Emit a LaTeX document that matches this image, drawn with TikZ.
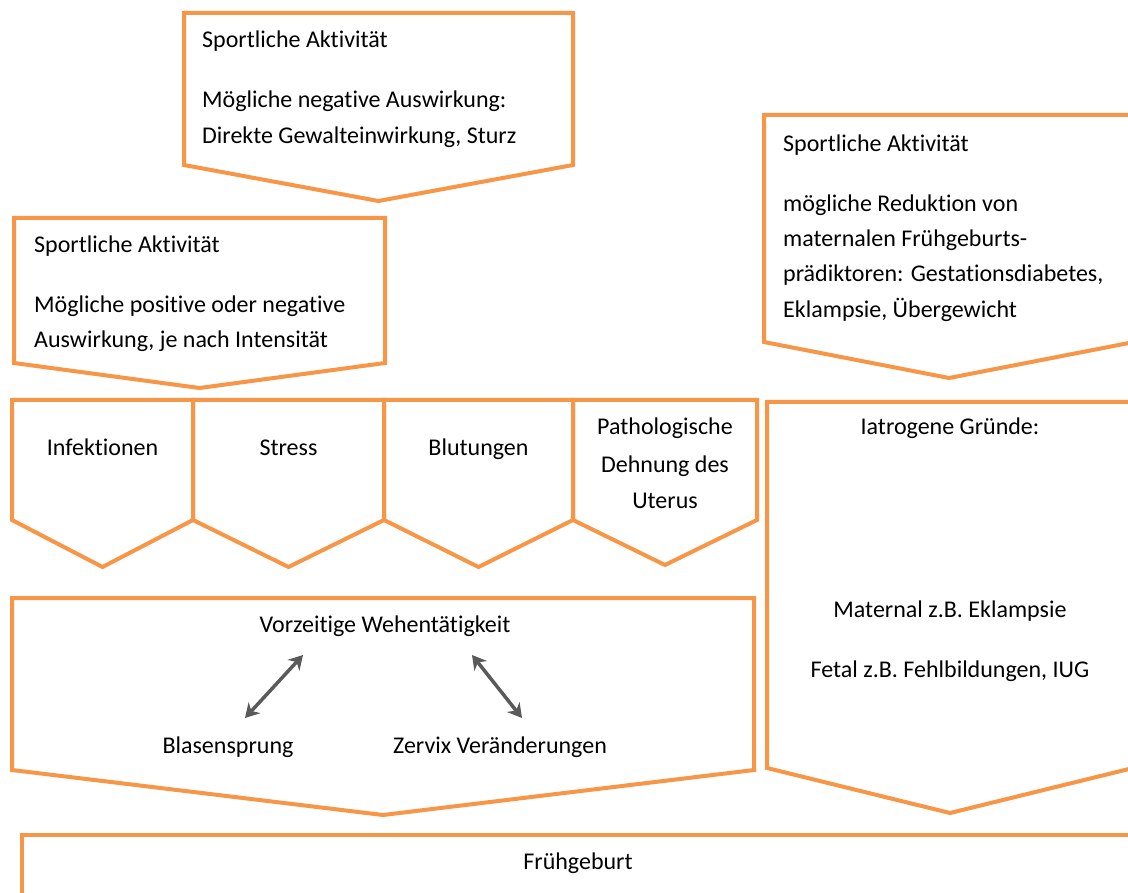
\documentclass[tikz,border=0pt]{standalone}
\usepackage{fontspec}
\setmainfont{Carlito}[Ligatures={NoCommon}]
\usetikzlibrary{arrows.meta}
\definecolor{orng}{HTML}{F79646}
\definecolor{arrgray}{HTML}{5A5A5A}
\newcommand\pentbox[5]{\draw[box] (#1,#2) -- (#3,#2) -- (#3,#4) -- ({(#1+#3)/2},#5) -- (#1,#4) -- cycle;}
\begin{document}
\begin{tikzpicture}[x=1pt,y=-1pt,
  box/.style={draw=orng,line width=4pt,line join=miter},
  txt/.style={inner sep=0pt,font=\fontsize{24}{35.5}\selectfont,text=black},
  link/.style={draw=arrgray,line width=3.5pt,{Stealth[length=14pt,width=16pt]}-{Stealth[length=14pt,width=16pt]}}]
\path[use as bounding box] (0,0) rectangle (1128,893);
\clip (0,0) rectangle (1128,893);
% shapes
\pentbox{184}{13}{573}{165}{201}
\pentbox{14}{218}{385}{363}{388}
\pentbox{764}{115}{1134}{342}{378}
\pentbox{12}{400}{193}{520}{567}
\pentbox{193}{400}{384}{520}{567}
\pentbox{384}{400}{573}{520}{567}
\pentbox{573}{400}{757}{520}{565}
\pentbox{767}{402}{1133}{768}{813}
\pentbox{12}{598}{754}{770}{815}
\draw[box] (22,835) rectangle (1140,910);
% texts
\node[txt,anchor=base west] (t1a) at (202,48) {Sportliche Aktivität};
\node[txt,anchor=base west] (t1b) at (202,108) {Mögliche negative Auswirkung:};
\node[txt,anchor=base west] (t1c) at (202,144) {Direkte Gewalteinwirkung, Sturz};
\node[txt,anchor=base west] (t2a) at (34,253) {Sportliche Aktivität};
\node[txt,anchor=base west] (t2b) at (34,313) {Mögliche positive oder negative};
\node[txt,anchor=base west] (t2c) at (34,348) {Auswirkung, je nach Intensität};
\node[txt,anchor=base west] (t3a) at (783,152) {Sportliche Aktivität};
\node[txt,anchor=base west] (t3b) at (783,212) {mögliche Reduktion von};
\node[txt,anchor=base west] (t3c) at (783,247) {maternalen Frühgeburts-};
\node[txt,anchor=base west] (t3d) at (783,282) {prädiktoren: Gestationsdiabetes,};
\node[txt,anchor=base west] (t3e) at (783,318) {Eklampsie, Übergewicht};
\node[txt,anchor=base] (inf) at (102.5,455) {Infektionen};
\node[txt,anchor=base] (str) at (288.5,455) {Stress};
\node[txt,anchor=base] (blu) at (478.5,455) {Blutungen};
\node[txt,anchor=base] (pa1) at (665,435) {Pathologische};
\node[txt,anchor=base] (pa2) at (665,472) {Dehnung des};
\node[txt,anchor=base] (pa3) at (665,508) {Uterus};
\node[txt,anchor=base] (iat) at (950,435) {Iatrogene Gründe:};
\node[txt,anchor=base] (mat) at (950,617) {Maternal z.B. Eklampsie};
\node[txt,anchor=base] (fet) at (950,677) {Fetal z.B. Fehlbildungen, IUG};
\node[txt,anchor=base] (vw) at (385,632) {Vorzeitige Wehentätigkeit};
\node[txt,anchor=base] (bs) at (228,753) {Blasensprung};
\node[txt,anchor=base] (zv) at (500,753) {Zervix Veränderungen};
\node[txt,anchor=base] (fg) at (578,869) {Frühgeburt};
% connectors
\coordinate (a1s) at (303,655);
\coordinate (a1e) at (245,718);
\coordinate (a2s) at (472,655);
\coordinate (a2e) at (522,718);
\draw[link] (a1s) -- (a1e);
\draw[link] (a2s) -- (a2e);
\end{tikzpicture}
\end{document}
